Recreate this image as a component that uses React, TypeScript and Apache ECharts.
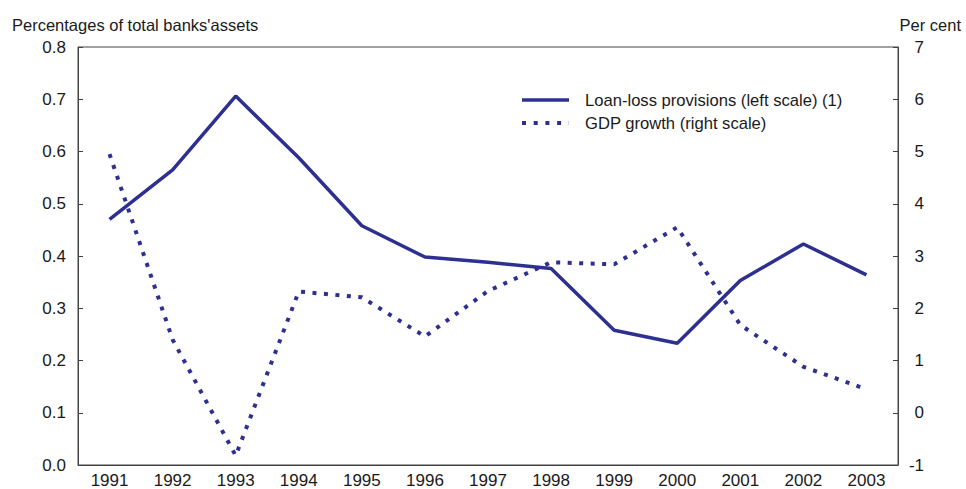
import React, { useEffect, useRef } from "react";
import * as echarts from "echarts";

const years = ["1991", "1992", "1993", "1994", "1995", "1996", "1997", "1998", "1999", "2000", "2001", "2002", "2003"];
const loanLossProvisions = [0.47, 0.565, 0.706, 0.588, 0.458, 0.398, 0.388, 0.376, 0.258, 0.233, 0.353, 0.423, 0.364];
const gdpGrowth = [4.95, 1.4, -0.82, 2.32, 2.21, 1.46, 2.33, 2.88, 2.84, 3.55, 1.68, 0.88, 0.45];
const leftTitle = "Percentages of total banks'assets";
const rightTitle = "Per cent";
const seriesNames = ["Loan-loss provisions (left scale) (1)", "GDP growth (right scale)"];

const LINE_COLOR = "#2D3091";
const TEXT_COLOR = "#1a1a1a";
const AXIS_COLOR = "#444";
const FONT = "'Liberation Sans', Arial, sans-serif";

export default function App() {
  const ref = useRef<HTMLDivElement>(null);
  useEffect(() => {
    if (!ref.current) return;
    const chart = echarts.init(ref.current, undefined, { renderer: "svg" });
    chart.setOption({
      animation: false,
      textStyle: { fontFamily: FONT },
      grid: {
        left: 78,
        right: 68,
        top: 47,
        bottom: 23,
        show: true,
        borderColor: AXIS_COLOR,
        borderWidth: 1,
        backgroundColor: "transparent",
      },
      xAxis: {
        type: "category",
        data: years,
        boundaryGap: true,
        axisLine: { lineStyle: { color: AXIS_COLOR, width: 1 } },
        axisTick: { inside: true, length: 5, interval: 0, lineStyle: { color: AXIS_COLOR } },
        axisLabel: { color: TEXT_COLOR, fontSize: 17, margin: 7, interval: 0, fontFamily: FONT },
        splitLine: { show: false },
      },
      yAxis: [
        {
          type: "value",
          min: 0,
          max: 0.8,
          interval: 0.1,
          position: "left",
          axisLine: { show: true, lineStyle: { color: AXIS_COLOR, width: 1 } },
          axisTick: { show: true, inside: true, length: 5, lineStyle: { color: AXIS_COLOR } },
          axisLabel: {
            color: TEXT_COLOR,
            fontSize: 17,
            margin: 12,
            fontFamily: FONT,
            formatter: (v: number) => v.toFixed(1),
          },
          splitLine: { show: false },
        },
        {
          type: "value",
          min: -1,
          max: 7,
          interval: 1,
          position: "right",
          axisLine: { show: true, lineStyle: { color: AXIS_COLOR, width: 1 } },
          axisTick: { show: true, inside: true, length: 5, lineStyle: { color: AXIS_COLOR } },
          axisLabel: { color: TEXT_COLOR, fontSize: 17, margin: 26, align: "right", fontFamily: FONT },
          splitLine: { show: false },
        },
      ],
      series: [
        {
          name: seriesNames[0],
          type: "line",
          yAxisIndex: 0,
          data: loanLossProvisions,
          symbol: "none",
          lineStyle: { color: LINE_COLOR, width: 3.5 },
        },
        {
          name: seriesNames[1],
          type: "line",
          yAxisIndex: 1,
          data: gdpGrowth,
          symbol: "none",
          lineStyle: { color: LINE_COLOR, width: 4, type: [4, 7.5], cap: "butt" },
        },
      ],
      graphic: [
        {
          type: "text",
          left: 12,
          top: 16,
          style: { text: leftTitle, fill: TEXT_COLOR, font: `16.5px ${FONT}` },
        },
        {
          type: "text",
          right: 5,
          top: 16,
          style: { text: rightTitle, fill: TEXT_COLOR, font: `16.5px ${FONT}` },
        },
        {
          type: "line",
          shape: { x1: 522, y1: 100, x2: 569, y2: 100 },
          style: { stroke: LINE_COLOR, lineWidth: 3.5 },
        },
        {
          type: "text",
          x: 585,
          y: 100,
          style: { text: seriesNames[0], fill: TEXT_COLOR, font: `16.6px ${FONT}`, verticalAlign: "middle" },
        },
        {
          type: "line",
          shape: { x1: 522, y1: 123, x2: 569, y2: 123 },
          style: { stroke: LINE_COLOR, lineWidth: 4, lineDash: [4, 7.7] },
        },
        {
          type: "text",
          x: 585,
          y: 123,
          style: { text: seriesNames[1], fill: TEXT_COLOR, font: `16.6px ${FONT}`, verticalAlign: "middle" },
        },
      ],
    });
    return () => chart.dispose();
  }, []);
  return <div ref={ref} style={{ width: 966, height: 489, position: "absolute", left: 0, top: 0 }} />;
}
